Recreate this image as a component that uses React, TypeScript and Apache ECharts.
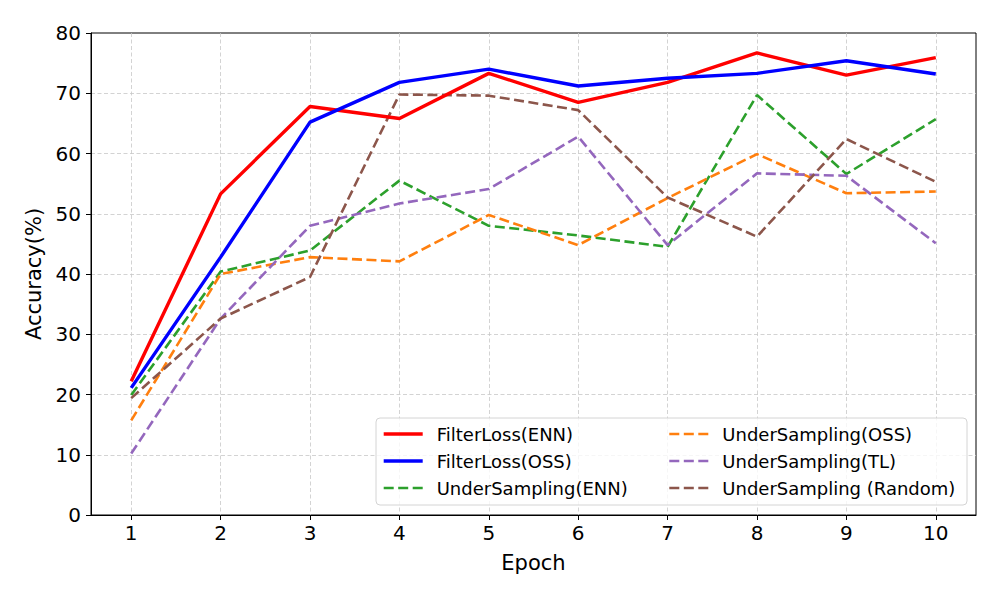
import React, { useEffect, useRef } from "react";
import * as echarts from "echarts";

const epochs = [1, 2, 3, 4, 5, 6, 7, 8, 9, 10];
const yTicks = [0, 10, 20, 30, 40, 50, 60, 70, 80];

const filterLossENN = [22.2, 53.3, 67.8, 65.8, 73.3, 68.5, 71.8, 76.7, 73.0, 75.9];
const filterLossOSS = [21.1, 42.8, 65.2, 71.8, 74.0, 71.2, 72.5, 73.3, 75.4, 73.2];
const underENN = [19.9, 40.4, 43.9, 55.5, 48.0, 46.4, 44.5, 69.7, 56.6, 65.7];
const underOSS = [15.7, 40.0, 42.8, 42.1, 49.8, 44.8, 52.6, 59.9, 53.4, 53.7];
const underTL = [10.2, 32.6, 48.0, 51.7, 54.1, 62.8, 44.8, 56.7, 56.3, 45.1];
const underRandom = [19.4, 32.6, 39.5, 69.8, 69.6, 67.2, 52.7, 46.2, 62.4, 55.3];

const seriesDefs = [
  { name: "FilterLoss(ENN)", data: filterLossENN, color: "#ff0000", dashed: false },
  { name: "FilterLoss(OSS)", data: filterLossOSS, color: "#0000ff", dashed: false },
  { name: "UnderSampling(ENN)", data: underENN, color: "#2ca02c", dashed: true },
  { name: "UnderSampling(OSS)", data: underOSS, color: "#ff7f0e", dashed: true },
  { name: "UnderSampling(TL)", data: underTL, color: "#9467bd", dashed: true },
  { name: "UnderSampling (Random)", data: underRandom, color: "#8c564b", dashed: true },
];

const FONT = "DejaVu Sans";
const SOLID_W = 3.4;
const DASH_W = 2.6;
const DASH: number[] = [10, 4.5];

export default function App() {
  const ref = useRef<HTMLDivElement>(null);
  useEffect(() => {
    if (!ref.current) return;
    const chart = echarts.init(ref.current, null, { renderer: "svg" });
    const legendItem = (s: (typeof seriesDefs)[number]) => ({
      name: s.name,
      lineStyle: {
        color: s.color,
        width: s.dashed ? DASH_W : SOLID_W,
        type: s.dashed ? DASH : "solid",
      },
    });
    const legendCommon = {
      orient: "vertical" as const,
      top: 425,
      padding: 0,
      itemWidth: 39,
      itemHeight: 14,
      itemGap: 9,
      z: 20,
      itemStyle: { opacity: 0 },
      textStyle: {
        fontFamily: FONT,
        fontSize: 18,
        lineHeight: 18,
        color: "#000",
        padding: [0, 0, 0, 9],
      },
    };
    chart.setOption({
      animation: false,
      backgroundColor: "#ffffff",
      grid: {
        left: 91,
        right: 24,
        top: 33,
        bottom: 85,
        show: true,
        borderColor: "#000",
        borderWidth: 1,
        backgroundColor: "transparent",
      },
      graphic: [
        {
          type: "rect",
          z: 10,
          shape: { x: 376, y: 418, width: 591, height: 87, r: 4 },
          style: { fill: "rgba(255,255,255,0.8)", stroke: "#d4d4d4", lineWidth: 1 },
        },
      ],
      legend: [
        { ...legendCommon, left: 382, data: seriesDefs.slice(0, 3).map(legendItem) },
        { ...legendCommon, left: 668, data: seriesDefs.slice(3).map(legendItem) },
      ],
      xAxis: {
        type: "value",
        min: 0.55,
        max: 10.45,
        name: "Epoch",
        nameLocation: "middle",
        nameGap: 37,
        nameTextStyle: { fontFamily: FONT, fontSize: 21, color: "#000" },
        axisLine: { show: true, lineStyle: { color: "#000", width: 1 } },
        axisTick: {
          show: true,
          length: 5,
          lineStyle: { color: "#000" },
          customValues: epochs,
        },
        axisLabel: {
          customValues: epochs,
          fontFamily: FONT,
          fontSize: 20,
          color: "#000",
          margin: 8,
        },
        splitLine: {
          show: true,
          lineStyle: { color: "#c8c8c8", type: [4, 2.5], width: 0.8 },
        },
      },
      yAxis: {
        type: "value",
        min: 0,
        max: 80,
        interval: 10,
        name: "Accuracy(%)",
        nameLocation: "middle",
        nameGap: 47,
        nameTextStyle: { fontFamily: FONT, fontSize: 21, color: "#000" },
        axisLine: { show: true, lineStyle: { color: "#000", width: 1 } },
        axisTick: { show: true, length: 5, lineStyle: { color: "#000" } },
        axisLabel: {
          fontFamily: FONT,
          fontSize: 20,
          color: "#000",
          margin: 10,
          customValues: yTicks,
        },
        splitLine: {
          show: true,
          showMinLine: false,
          showMaxLine: false,
          lineStyle: { color: "#c8c8c8", type: [4, 2.5], width: 0.8 },
        },
      },
      series: seriesDefs.map((s) => ({
        name: s.name,
        type: "line",
        symbol: "none",
        data: s.data.map((v, i) => [epochs[i], v]),
        color: s.color,
        lineStyle: {
          color: s.color,
          width: s.dashed ? DASH_W : SOLID_W,
          type: s.dashed ? DASH : "solid",
        },
        z: s.dashed ? 2 : 3,
      })),
    });
    return () => chart.dispose();
  }, []);
  return (
    <div
      ref={ref}
      style={{ position: "absolute", left: 0, top: 0, width: 1000, height: 600, background: "#fff" }}
    />
  );
}
